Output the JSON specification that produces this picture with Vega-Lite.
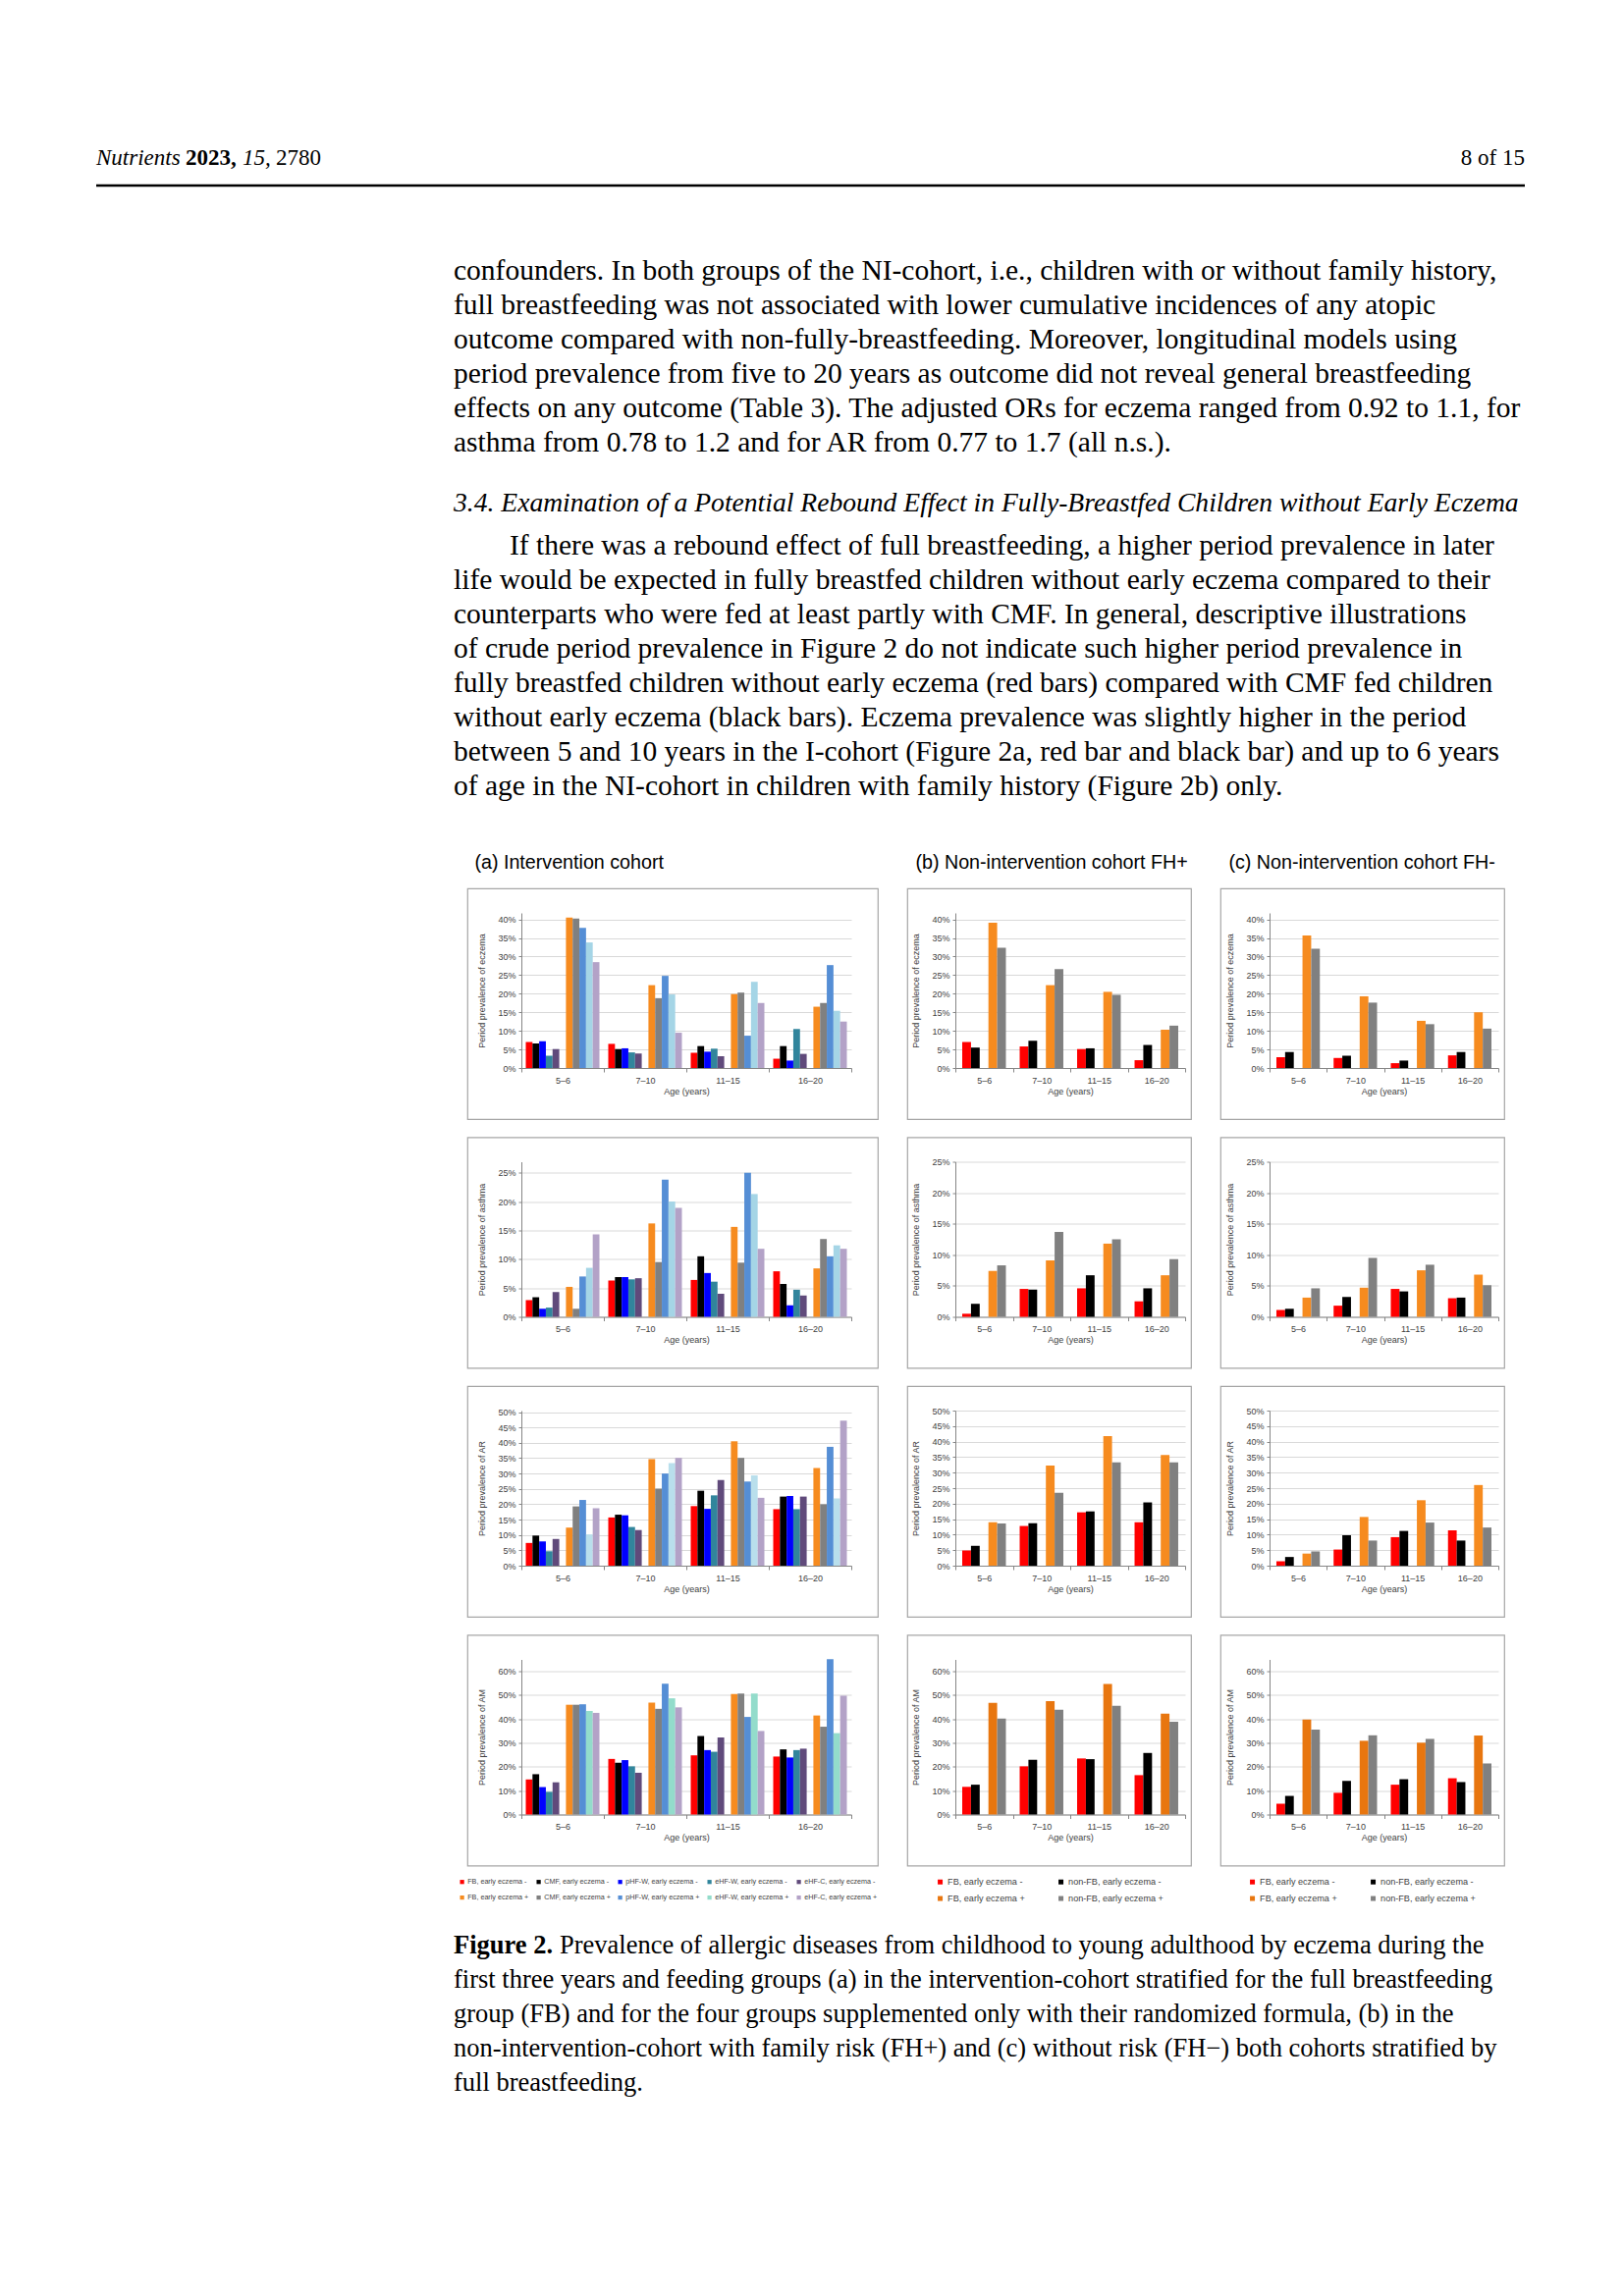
{
 "$schema": "https://vega.github.io/schema/vega-lite/v6.json",
 "background": "white",
 "padding": 0,
 "spacing": 0,
 "resolve": {"scale": {"color": "independent", "xOffset": "independent"}, "legend": {"color": "independent"}},
 "datasets": {
  "prev": [
   {"c":"a","o":"eczema","age":"5–6","g":"FB, early eczema -","v":7.0},
   {"c":"a","o":"eczema","age":"5–6","g":"CMF, early eczema -","v":6.6},
   {"c":"a","o":"eczema","age":"5–6","g":"pHF-W, early eczema -","v":7.2},
   {"c":"a","o":"eczema","age":"5–6","g":"eHF-W, early eczema -","v":3.3},
   {"c":"a","o":"eczema","age":"5–6","g":"eHF-C, early eczema -","v":5.1},
   {"c":"a","o":"eczema","age":"5–6","g":"FB, early eczema +","v":40.5},
   {"c":"a","o":"eczema","age":"5–6","g":"CMF, early eczema +","v":40.2},
   {"c":"a","o":"eczema","age":"5–6","g":"pHF-W, early eczema +","v":37.7},
   {"c":"a","o":"eczema","age":"5–6","g":"eHF-W, early eczema +","v":33.8},
   {"c":"a","o":"eczema","age":"5–6","g":"eHF-C, early eczema +","v":28.5},
   {"c":"a","o":"eczema","age":"7–10","g":"FB, early eczema -","v":6.5},
   {"c":"a","o":"eczema","age":"7–10","g":"CMF, early eczema -","v":5.1},
   {"c":"a","o":"eczema","age":"7–10","g":"pHF-W, early eczema -","v":5.3},
   {"c":"a","o":"eczema","age":"7–10","g":"eHF-W, early eczema -","v":4.2},
   {"c":"a","o":"eczema","age":"7–10","g":"eHF-C, early eczema -","v":3.9},
   {"c":"a","o":"eczema","age":"7–10","g":"FB, early eczema +","v":22.3},
   {"c":"a","o":"eczema","age":"7–10","g":"CMF, early eczema +","v":18.8},
   {"c":"a","o":"eczema","age":"7–10","g":"pHF-W, early eczema +","v":24.8},
   {"c":"a","o":"eczema","age":"7–10","g":"eHF-W, early eczema +","v":19.8},
   {"c":"a","o":"eczema","age":"7–10","g":"eHF-C, early eczema +","v":9.5},
   {"c":"a","o":"eczema","age":"11–15","g":"FB, early eczema -","v":4.1},
   {"c":"a","o":"eczema","age":"11–15","g":"CMF, early eczema -","v":5.9},
   {"c":"a","o":"eczema","age":"11–15","g":"pHF-W, early eczema -","v":4.4},
   {"c":"a","o":"eczema","age":"11–15","g":"eHF-W, early eczema -","v":5.2},
   {"c":"a","o":"eczema","age":"11–15","g":"eHF-C, early eczema -","v":3.2},
   {"c":"a","o":"eczema","age":"11–15","g":"FB, early eczema +","v":19.9},
   {"c":"a","o":"eczema","age":"11–15","g":"CMF, early eczema +","v":20.3},
   {"c":"a","o":"eczema","age":"11–15","g":"pHF-W, early eczema +","v":8.7},
   {"c":"a","o":"eczema","age":"11–15","g":"eHF-W, early eczema +","v":23.2},
   {"c":"a","o":"eczema","age":"11–15","g":"eHF-C, early eczema +","v":17.5},
   {"c":"a","o":"eczema","age":"16–20","g":"FB, early eczema -","v":2.5},
   {"c":"a","o":"eczema","age":"16–20","g":"CMF, early eczema -","v":5.9},
   {"c":"a","o":"eczema","age":"16–20","g":"pHF-W, early eczema -","v":2.0},
   {"c":"a","o":"eczema","age":"16–20","g":"eHF-W, early eczema -","v":10.5},
   {"c":"a","o":"eczema","age":"16–20","g":"eHF-C, early eczema -","v":3.8},
   {"c":"a","o":"eczema","age":"16–20","g":"FB, early eczema +","v":16.5},
   {"c":"a","o":"eczema","age":"16–20","g":"CMF, early eczema +","v":17.5},
   {"c":"a","o":"eczema","age":"16–20","g":"pHF-W, early eczema +","v":27.7},
   {"c":"a","o":"eczema","age":"16–20","g":"eHF-W, early eczema +","v":15.4},
   {"c":"a","o":"eczema","age":"16–20","g":"eHF-C, early eczema +","v":12.5},

   {"c":"a","o":"asthma","age":"5–6","g":"FB, early eczema -","v":2.9},
   {"c":"a","o":"asthma","age":"5–6","g":"CMF, early eczema -","v":3.4},
   {"c":"a","o":"asthma","age":"5–6","g":"pHF-W, early eczema -","v":1.4},
   {"c":"a","o":"asthma","age":"5–6","g":"eHF-W, early eczema -","v":1.6},
   {"c":"a","o":"asthma","age":"5–6","g":"eHF-C, early eczema -","v":4.3},
   {"c":"a","o":"asthma","age":"5–6","g":"FB, early eczema +","v":5.2},
   {"c":"a","o":"asthma","age":"5–6","g":"CMF, early eczema +","v":1.4},
   {"c":"a","o":"asthma","age":"5–6","g":"pHF-W, early eczema +","v":7.0},
   {"c":"a","o":"asthma","age":"5–6","g":"eHF-W, early eczema +","v":8.5},
   {"c":"a","o":"asthma","age":"5–6","g":"eHF-C, early eczema +","v":14.3},
   {"c":"a","o":"asthma","age":"7–10","g":"FB, early eczema -","v":6.3},
   {"c":"a","o":"asthma","age":"7–10","g":"CMF, early eczema -","v":6.9},
   {"c":"a","o":"asthma","age":"7–10","g":"pHF-W, early eczema -","v":6.9},
   {"c":"a","o":"asthma","age":"7–10","g":"eHF-W, early eczema -","v":6.5},
   {"c":"a","o":"asthma","age":"7–10","g":"eHF-C, early eczema -","v":6.7},
   {"c":"a","o":"asthma","age":"7–10","g":"FB, early eczema +","v":16.2},
   {"c":"a","o":"asthma","age":"7–10","g":"CMF, early eczema +","v":9.5},
   {"c":"a","o":"asthma","age":"7–10","g":"pHF-W, early eczema +","v":23.8},
   {"c":"a","o":"asthma","age":"7–10","g":"eHF-W, early eczema +","v":20.0},
   {"c":"a","o":"asthma","age":"7–10","g":"eHF-C, early eczema +","v":18.9},
   {"c":"a","o":"asthma","age":"11–15","g":"FB, early eczema -","v":6.4},
   {"c":"a","o":"asthma","age":"11–15","g":"CMF, early eczema -","v":10.5},
   {"c":"a","o":"asthma","age":"11–15","g":"pHF-W, early eczema -","v":7.6},
   {"c":"a","o":"asthma","age":"11–15","g":"eHF-W, early eczema -","v":6.1},
   {"c":"a","o":"asthma","age":"11–15","g":"eHF-C, early eczema -","v":4.0},
   {"c":"a","o":"asthma","age":"11–15","g":"FB, early eczema +","v":15.6},
   {"c":"a","o":"asthma","age":"11–15","g":"CMF, early eczema +","v":9.4},
   {"c":"a","o":"asthma","age":"11–15","g":"pHF-W, early eczema +","v":25.0},
   {"c":"a","o":"asthma","age":"11–15","g":"eHF-W, early eczema +","v":21.3},
   {"c":"a","o":"asthma","age":"11–15","g":"eHF-C, early eczema +","v":11.8},
   {"c":"a","o":"asthma","age":"16–20","g":"FB, early eczema -","v":7.9},
   {"c":"a","o":"asthma","age":"16–20","g":"CMF, early eczema -","v":5.7},
   {"c":"a","o":"asthma","age":"16–20","g":"pHF-W, early eczema -","v":2.0},
   {"c":"a","o":"asthma","age":"16–20","g":"eHF-W, early eczema -","v":4.7},
   {"c":"a","o":"asthma","age":"16–20","g":"eHF-C, early eczema -","v":3.7},
   {"c":"a","o":"asthma","age":"16–20","g":"FB, early eczema +","v":8.4},
   {"c":"a","o":"asthma","age":"16–20","g":"CMF, early eczema +","v":13.5},
   {"c":"a","o":"asthma","age":"16–20","g":"pHF-W, early eczema +","v":10.5},
   {"c":"a","o":"asthma","age":"16–20","g":"eHF-W, early eczema +","v":12.4},
   {"c":"a","o":"asthma","age":"16–20","g":"eHF-C, early eczema +","v":11.8},

   {"c":"a","o":"AR","age":"5–6","g":"FB, early eczema -","v":7.4},
   {"c":"a","o":"AR","age":"5–6","g":"CMF, early eczema -","v":9.8},
   {"c":"a","o":"AR","age":"5–6","g":"pHF-W, early eczema -","v":7.9},
   {"c":"a","o":"AR","age":"5–6","g":"eHF-W, early eczema -","v":4.7},
   {"c":"a","o":"AR","age":"5–6","g":"eHF-C, early eczema -","v":8.7},
   {"c":"a","o":"AR","age":"5–6","g":"FB, early eczema +","v":12.4},
   {"c":"a","o":"AR","age":"5–6","g":"CMF, early eczema +","v":19.3},
   {"c":"a","o":"AR","age":"5–6","g":"pHF-W, early eczema +","v":21.4},
   {"c":"a","o":"AR","age":"5–6","g":"eHF-W, early eczema +","v":10.2},
   {"c":"a","o":"AR","age":"5–6","g":"eHF-C, early eczema +","v":18.7},
   {"c":"a","o":"AR","age":"7–10","g":"FB, early eczema -","v":15.7},
   {"c":"a","o":"AR","age":"7–10","g":"CMF, early eczema -","v":16.6},
   {"c":"a","o":"AR","age":"7–10","g":"pHF-W, early eczema -","v":16.4},
   {"c":"a","o":"AR","age":"7–10","g":"eHF-W, early eczema -","v":12.6},
   {"c":"a","o":"AR","age":"7–10","g":"eHF-C, early eczema -","v":11.6},
   {"c":"a","o":"AR","age":"7–10","g":"FB, early eczema +","v":34.7},
   {"c":"a","o":"AR","age":"7–10","g":"CMF, early eczema +","v":25.1},
   {"c":"a","o":"AR","age":"7–10","g":"pHF-W, early eczema +","v":30.0},
   {"c":"a","o":"AR","age":"7–10","g":"eHF-W, early eczema +","v":33.4},
   {"c":"a","o":"AR","age":"7–10","g":"eHF-C, early eczema +","v":35.1},
   {"c":"a","o":"AR","age":"11–15","g":"FB, early eczema -","v":19.4},
   {"c":"a","o":"AR","age":"11–15","g":"CMF, early eczema -","v":24.4},
   {"c":"a","o":"AR","age":"11–15","g":"pHF-W, early eczema -","v":18.5},
   {"c":"a","o":"AR","age":"11–15","g":"eHF-W, early eczema -","v":22.9},
   {"c":"a","o":"AR","age":"11–15","g":"eHF-C, early eczema -","v":27.9},
   {"c":"a","o":"AR","age":"11–15","g":"FB, early eczema +","v":40.5},
   {"c":"a","o":"AR","age":"11–15","g":"CMF, early eczema +","v":35.1},
   {"c":"a","o":"AR","age":"11–15","g":"pHF-W, early eczema +","v":27.4},
   {"c":"a","o":"AR","age":"11–15","g":"eHF-W, early eczema +","v":29.4},
   {"c":"a","o":"AR","age":"11–15","g":"eHF-C, early eczema +","v":22.1},
   {"c":"a","o":"AR","age":"16–20","g":"FB, early eczema -","v":18.4},
   {"c":"a","o":"AR","age":"16–20","g":"CMF, early eczema -","v":22.5},
   {"c":"a","o":"AR","age":"16–20","g":"pHF-W, early eczema -","v":22.7},
   {"c":"a","o":"AR","age":"16–20","g":"eHF-W, early eczema -","v":18.4},
   {"c":"a","o":"AR","age":"16–20","g":"eHF-C, early eczema -","v":22.5},
   {"c":"a","o":"AR","age":"16–20","g":"FB, early eczema +","v":31.8},
   {"c":"a","o":"AR","age":"16–20","g":"CMF, early eczema +","v":20.0},
   {"c":"a","o":"AR","age":"16–20","g":"pHF-W, early eczema +","v":38.7},
   {"c":"a","o":"AR","age":"16–20","g":"eHF-W, early eczema +","v":21.9},
   {"c":"a","o":"AR","age":"16–20","g":"eHF-C, early eczema +","v":47.2},

   {"c":"a","o":"AM","age":"5–6","g":"FB, early eczema -","v":14.7},
   {"c":"a","o":"AM","age":"5–6","g":"CMF, early eczema -","v":16.9},
   {"c":"a","o":"AM","age":"5–6","g":"pHF-W, early eczema -","v":11.5},
   {"c":"a","o":"AM","age":"5–6","g":"eHF-W, early eczema -","v":9.5},
   {"c":"a","o":"AM","age":"5–6","g":"eHF-C, early eczema -","v":13.5},
   {"c":"a","o":"AM","age":"5–6","g":"FB, early eczema +","v":46.0},
   {"c":"a","o":"AM","age":"5–6","g":"CMF, early eczema +","v":46.0},
   {"c":"a","o":"AM","age":"5–6","g":"pHF-W, early eczema +","v":46.2},
   {"c":"a","o":"AM","age":"5–6","g":"eHF-W, early eczema +","v":43.4},
   {"c":"a","o":"AM","age":"5–6","g":"eHF-C, early eczema +","v":42.6},
   {"c":"a","o":"AM","age":"7–10","g":"FB, early eczema -","v":23.3},
   {"c":"a","o":"AM","age":"7–10","g":"CMF, early eczema -","v":21.7},
   {"c":"a","o":"AM","age":"7–10","g":"pHF-W, early eczema -","v":22.8},
   {"c":"a","o":"AM","age":"7–10","g":"eHF-W, early eczema -","v":20.2},
   {"c":"a","o":"AM","age":"7–10","g":"eHF-C, early eczema -","v":17.5},
   {"c":"a","o":"AM","age":"7–10","g":"FB, early eczema +","v":46.9},
   {"c":"a","o":"AM","age":"7–10","g":"CMF, early eczema +","v":44.3},
   {"c":"a","o":"AM","age":"7–10","g":"pHF-W, early eczema +","v":54.8},
   {"c":"a","o":"AM","age":"7–10","g":"eHF-W, early eczema +","v":48.7},
   {"c":"a","o":"AM","age":"7–10","g":"eHF-C, early eczema +","v":44.9},
   {"c":"a","o":"AM","age":"11–15","g":"FB, early eczema -","v":24.8},
   {"c":"a","o":"AM","age":"11–15","g":"CMF, early eczema -","v":32.9},
   {"c":"a","o":"AM","age":"11–15","g":"pHF-W, early eczema -","v":27.0},
   {"c":"a","o":"AM","age":"11–15","g":"eHF-W, early eczema -","v":26.3},
   {"c":"a","o":"AM","age":"11–15","g":"eHF-C, early eczema -","v":32.3},
   {"c":"a","o":"AM","age":"11–15","g":"FB, early eczema +","v":50.5},
   {"c":"a","o":"AM","age":"11–15","g":"CMF, early eczema +","v":50.7},
   {"c":"a","o":"AM","age":"11–15","g":"pHF-W, early eczema +","v":40.9},
   {"c":"a","o":"AM","age":"11–15","g":"eHF-W, early eczema +","v":50.7},
   {"c":"a","o":"AM","age":"11–15","g":"eHF-C, early eczema +","v":35.0},
   {"c":"a","o":"AM","age":"16–20","g":"FB, early eczema -","v":24.3},
   {"c":"a","o":"AM","age":"16–20","g":"CMF, early eczema -","v":27.3},
   {"c":"a","o":"AM","age":"16–20","g":"pHF-W, early eczema -","v":23.9},
   {"c":"a","o":"AM","age":"16–20","g":"eHF-W, early eczema -","v":27.0},
   {"c":"a","o":"AM","age":"16–20","g":"eHF-C, early eczema -","v":27.6},
   {"c":"a","o":"AM","age":"16–20","g":"FB, early eczema +","v":41.5},
   {"c":"a","o":"AM","age":"16–20","g":"CMF, early eczema +","v":36.8},
   {"c":"a","o":"AM","age":"16–20","g":"pHF-W, early eczema +","v":65.1},
   {"c":"a","o":"AM","age":"16–20","g":"eHF-W, early eczema +","v":34.1},
   {"c":"a","o":"AM","age":"16–20","g":"eHF-C, early eczema +","v":49.8},

   {"c":"b","o":"eczema","age":"5–6","g":"FB, early eczema -","v":7.0},
   {"c":"b","o":"eczema","age":"5–6","g":"non-FB, early eczema -","v":5.5},
   {"c":"b","o":"eczema","age":"5–6","g":"FB, early eczema +","v":39.1},
   {"c":"b","o":"eczema","age":"5–6","g":"non-FB, early eczema +","v":32.4},
   {"c":"b","o":"eczema","age":"7–10","g":"FB, early eczema -","v":5.8},
   {"c":"b","o":"eczema","age":"7–10","g":"non-FB, early eczema -","v":7.3},
   {"c":"b","o":"eczema","age":"7–10","g":"FB, early eczema +","v":22.3},
   {"c":"b","o":"eczema","age":"7–10","g":"non-FB, early eczema +","v":26.6},
   {"c":"b","o":"eczema","age":"11–15","g":"FB, early eczema -","v":5.1},
   {"c":"b","o":"eczema","age":"11–15","g":"non-FB, early eczema -","v":5.3},
   {"c":"b","o":"eczema","age":"11–15","g":"FB, early eczema +","v":20.5},
   {"c":"b","o":"eczema","age":"11–15","g":"non-FB, early eczema +","v":19.7},
   {"c":"b","o":"eczema","age":"16–20","g":"FB, early eczema -","v":2.1},
   {"c":"b","o":"eczema","age":"16–20","g":"non-FB, early eczema -","v":6.2},
   {"c":"b","o":"eczema","age":"16–20","g":"FB, early eczema +","v":10.3},
   {"c":"b","o":"eczema","age":"16–20","g":"non-FB, early eczema +","v":11.4},
   {"c":"b","o":"asthma","age":"5–6","g":"FB, early eczema -","v":0.5},
   {"c":"b","o":"asthma","age":"5–6","g":"non-FB, early eczema -","v":2.1},
   {"c":"b","o":"asthma","age":"5–6","g":"FB, early eczema +","v":7.4},
   {"c":"b","o":"asthma","age":"5–6","g":"non-FB, early eczema +","v":8.3},
   {"c":"b","o":"asthma","age":"7–10","g":"FB, early eczema -","v":4.5},
   {"c":"b","o":"asthma","age":"7–10","g":"non-FB, early eczema -","v":4.4},
   {"c":"b","o":"asthma","age":"7–10","g":"FB, early eczema +","v":9.1},
   {"c":"b","o":"asthma","age":"7–10","g":"non-FB, early eczema +","v":13.7},
   {"c":"b","o":"asthma","age":"11–15","g":"FB, early eczema -","v":4.6},
   {"c":"b","o":"asthma","age":"11–15","g":"non-FB, early eczema -","v":6.7},
   {"c":"b","o":"asthma","age":"11–15","g":"FB, early eczema +","v":11.8},
   {"c":"b","o":"asthma","age":"11–15","g":"non-FB, early eczema +","v":12.5},
   {"c":"b","o":"asthma","age":"16–20","g":"FB, early eczema -","v":2.5},
   {"c":"b","o":"asthma","age":"16–20","g":"non-FB, early eczema -","v":4.6},
   {"c":"b","o":"asthma","age":"16–20","g":"FB, early eczema +","v":6.7},
   {"c":"b","o":"asthma","age":"16–20","g":"non-FB, early eczema +","v":9.3},
   {"c":"b","o":"AR","age":"5–6","g":"FB, early eczema -","v":4.9},
   {"c":"b","o":"AR","age":"5–6","g":"non-FB, early eczema -","v":6.4},
   {"c":"b","o":"AR","age":"5–6","g":"FB, early eczema +","v":14.0},
   {"c":"b","o":"AR","age":"5–6","g":"non-FB, early eczema +","v":13.6},
   {"c":"b","o":"AR","age":"7–10","g":"FB, early eczema -","v":12.8},
   {"c":"b","o":"AR","age":"7–10","g":"non-FB, early eczema -","v":13.7},
   {"c":"b","o":"AR","age":"7–10","g":"FB, early eczema +","v":32.3},
   {"c":"b","o":"AR","age":"7–10","g":"non-FB, early eczema +","v":23.5},
   {"c":"b","o":"AR","age":"11–15","g":"FB, early eczema -","v":17.2},
   {"c":"b","o":"AR","age":"11–15","g":"non-FB, early eczema -","v":17.5},
   {"c":"b","o":"AR","age":"11–15","g":"FB, early eczema +","v":41.8},
   {"c":"b","o":"AR","age":"11–15","g":"non-FB, early eczema +","v":33.3},
   {"c":"b","o":"AR","age":"16–20","g":"FB, early eczema -","v":14.0},
   {"c":"b","o":"AR","age":"16–20","g":"non-FB, early eczema -","v":20.4},
   {"c":"b","o":"AR","age":"16–20","g":"FB, early eczema +","v":35.7},
   {"c":"b","o":"AR","age":"16–20","g":"non-FB, early eczema +","v":33.3},
   {"c":"b","o":"AM","age":"5–6","g":"FB, early eczema -","v":11.6},
   {"c":"b","o":"AM","age":"5–6","g":"non-FB, early eczema -","v":12.5},
   {"c":"b","o":"AM","age":"5–6","g":"FB, early eczema +","v":46.8},
   {"c":"b","o":"AM","age":"5–6","g":"non-FB, early eczema +","v":40.2},
   {"c":"b","o":"AM","age":"7–10","g":"FB, early eczema -","v":20.2},
   {"c":"b","o":"AM","age":"7–10","g":"non-FB, early eczema -","v":22.9},
   {"c":"b","o":"AM","age":"7–10","g":"FB, early eczema +","v":47.5},
   {"c":"b","o":"AM","age":"7–10","g":"non-FB, early eczema +","v":43.9},
   {"c":"b","o":"AM","age":"11–15","g":"FB, early eczema -","v":23.5},
   {"c":"b","o":"AM","age":"11–15","g":"non-FB, early eczema -","v":23.2},
   {"c":"b","o":"AM","age":"11–15","g":"FB, early eczema +","v":54.7},
   {"c":"b","o":"AM","age":"11–15","g":"non-FB, early eczema +","v":45.6},
   {"c":"b","o":"AM","age":"16–20","g":"FB, early eczema -","v":16.5},
   {"c":"b","o":"AM","age":"16–20","g":"non-FB, early eczema -","v":25.8},
   {"c":"b","o":"AM","age":"16–20","g":"FB, early eczema +","v":42.3},
   {"c":"b","o":"AM","age":"16–20","g":"non-FB, early eczema +","v":38.9},

   {"c":"c","o":"eczema","age":"5–6","g":"FB, early eczema -","v":2.9},
   {"c":"c","o":"eczema","age":"5–6","g":"non-FB, early eczema -","v":4.3},
   {"c":"c","o":"eczema","age":"5–6","g":"FB, early eczema +","v":35.7},
   {"c":"c","o":"eczema","age":"5–6","g":"non-FB, early eczema +","v":32.1},
   {"c":"c","o":"eczema","age":"7–10","g":"FB, early eczema -","v":2.7},
   {"c":"c","o":"eczema","age":"7–10","g":"non-FB, early eczema -","v":3.3},
   {"c":"c","o":"eczema","age":"7–10","g":"FB, early eczema +","v":19.3},
   {"c":"c","o":"eczema","age":"7–10","g":"non-FB, early eczema +","v":17.6},
   {"c":"c","o":"eczema","age":"11–15","g":"FB, early eczema -","v":1.3},
   {"c":"c","o":"eczema","age":"11–15","g":"non-FB, early eczema -","v":2.0},
   {"c":"c","o":"eczema","age":"11–15","g":"FB, early eczema +","v":12.7},
   {"c":"c","o":"eczema","age":"11–15","g":"non-FB, early eczema +","v":11.8},
   {"c":"c","o":"eczema","age":"16–20","g":"FB, early eczema -","v":3.4},
   {"c":"c","o":"eczema","age":"16–20","g":"non-FB, early eczema -","v":4.3},
   {"c":"c","o":"eczema","age":"16–20","g":"FB, early eczema +","v":15.0},
   {"c":"c","o":"eczema","age":"16–20","g":"non-FB, early eczema +","v":10.6},
   {"c":"c","o":"asthma","age":"5–6","g":"FB, early eczema -","v":1.1},
   {"c":"c","o":"asthma","age":"5–6","g":"non-FB, early eczema -","v":1.3},
   {"c":"c","o":"asthma","age":"5–6","g":"FB, early eczema +","v":3.1},
   {"c":"c","o":"asthma","age":"5–6","g":"non-FB, early eczema +","v":4.6},
   {"c":"c","o":"asthma","age":"7–10","g":"FB, early eczema -","v":1.8},
   {"c":"c","o":"asthma","age":"7–10","g":"non-FB, early eczema -","v":3.2},
   {"c":"c","o":"asthma","age":"7–10","g":"FB, early eczema +","v":4.7},
   {"c":"c","o":"asthma","age":"7–10","g":"non-FB, early eczema +","v":9.5},
   {"c":"c","o":"asthma","age":"11–15","g":"FB, early eczema -","v":4.5},
   {"c":"c","o":"asthma","age":"11–15","g":"non-FB, early eczema -","v":4.1},
   {"c":"c","o":"asthma","age":"11–15","g":"FB, early eczema +","v":7.5},
   {"c":"c","o":"asthma","age":"11–15","g":"non-FB, early eczema +","v":8.4},
   {"c":"c","o":"asthma","age":"16–20","g":"FB, early eczema -","v":3.0},
   {"c":"c","o":"asthma","age":"16–20","g":"non-FB, early eczema -","v":3.1},
   {"c":"c","o":"asthma","age":"16–20","g":"FB, early eczema +","v":6.8},
   {"c":"c","o":"asthma","age":"16–20","g":"non-FB, early eczema +","v":5.1},
   {"c":"c","o":"AR","age":"5–6","g":"FB, early eczema -","v":1.4},
   {"c":"c","o":"AR","age":"5–6","g":"non-FB, early eczema -","v":2.8},
   {"c":"c","o":"AR","age":"5–6","g":"FB, early eczema +","v":3.9},
   {"c":"c","o":"AR","age":"5–6","g":"non-FB, early eczema +","v":4.6},
   {"c":"c","o":"AR","age":"7–10","g":"FB, early eczema -","v":5.2},
   {"c":"c","o":"AR","age":"7–10","g":"non-FB, early eczema -","v":9.8},
   {"c":"c","o":"AR","age":"7–10","g":"FB, early eczema +","v":15.7},
   {"c":"c","o":"AR","age":"7–10","g":"non-FB, early eczema +","v":8.1},
   {"c":"c","o":"AR","age":"11–15","g":"FB, early eczema -","v":9.2},
   {"c":"c","o":"AR","age":"11–15","g":"non-FB, early eczema -","v":11.2},
   {"c":"c","o":"AR","age":"11–15","g":"FB, early eczema +","v":21.1},
   {"c":"c","o":"AR","age":"11–15","g":"non-FB, early eczema +","v":13.9},
   {"c":"c","o":"AR","age":"16–20","g":"FB, early eczema -","v":11.4},
   {"c":"c","o":"AR","age":"16–20","g":"non-FB, early eczema -","v":8.1},
   {"c":"c","o":"AR","age":"16–20","g":"FB, early eczema +","v":26.0},
   {"c":"c","o":"AR","age":"16–20","g":"non-FB, early eczema +","v":12.3},
   {"c":"c","o":"AM","age":"5–6","g":"FB, early eczema -","v":4.5},
   {"c":"c","o":"AM","age":"5–6","g":"non-FB, early eczema -","v":7.8},
   {"c":"c","o":"AM","age":"5–6","g":"FB, early eczema +","v":39.8},
   {"c":"c","o":"AM","age":"5–6","g":"non-FB, early eczema +","v":35.6},
   {"c":"c","o":"AM","age":"7–10","g":"FB, early eczema -","v":9.1},
   {"c":"c","o":"AM","age":"7–10","g":"non-FB, early eczema -","v":14.1},
   {"c":"c","o":"AM","age":"7–10","g":"FB, early eczema +","v":30.9},
   {"c":"c","o":"AM","age":"7–10","g":"non-FB, early eczema +","v":33.2},
   {"c":"c","o":"AM","age":"11–15","g":"FB, early eczema -","v":12.5},
   {"c":"c","o":"AM","age":"11–15","g":"non-FB, early eczema -","v":14.8},
   {"c":"c","o":"AM","age":"11–15","g":"FB, early eczema +","v":30.1},
   {"c":"c","o":"AM","age":"11–15","g":"non-FB, early eczema +","v":31.7},
   {"c":"c","o":"AM","age":"16–20","g":"FB, early eczema -","v":15.2},
   {"c":"c","o":"AM","age":"16–20","g":"non-FB, early eczema -","v":13.6},
   {"c":"c","o":"AM","age":"16–20","g":"FB, early eczema +","v":33.1},
   {"c":"c","o":"AM","age":"16–20","g":"non-FB, early eczema +","v":21.4}
  ]
 },
 "vconcat": [
  {
   "width": 1654, "height": 200,
   "encoding": {
    "x": {"datum": 0, "type": "quantitative", "scale": {"domain": [0, 1], "range": [98, 1553], "nice": false, "zero": false}, "axis": null},
    "y": {"datum": 0, "type": "quantitative", "scale": {"domain": [0, 1], "range": [161, 189], "nice": false, "zero": false}, "axis": null}
   },
   "layer": [
    {"data": {"values": [{"t": "Nutrients"}]}, "mark": {"type": "text", "font": "Liberation Serif", "fontSize": 23, "fontStyle": "italic", "align": "left", "baseline": "middle", "color": "#000"}, "encoding": {"text": {"field": "t"}}},
    {"data": {"values": [{"t": "2023,"}]}, "mark": {"type": "text", "font": "Liberation Serif", "fontSize": 23, "fontWeight": "bold", "align": "left", "baseline": "middle", "color": "#000", "dx": 91}, "encoding": {"text": {"field": "t"}}},
    {"data": {"values": [{"t": "15,"}]}, "mark": {"type": "text", "font": "Liberation Serif", "fontSize": 23, "fontStyle": "italic", "align": "left", "baseline": "middle", "color": "#000", "dx": 149}, "encoding": {"text": {"field": "t"}}},
    {"data": {"values": [{"t": "2780"}]}, "mark": {"type": "text", "font": "Liberation Serif", "fontSize": 23, "align": "left", "baseline": "middle", "color": "#000", "dx": 183}, "encoding": {"text": {"field": "t"}}},
    {"data": {"values": [{"t": "8 of 15"}]}, "mark": {"type": "text", "font": "Liberation Serif", "fontSize": 23, "align": "right", "baseline": "middle", "color": "#000"}, "encoding": {"x": {"datum": 1, "type": "quantitative"}, "text": {"field": "t"}}},
    {"data": {"values": [{"t": "header rule"}]}, "mark": {"type": "rule", "strokeWidth": 2.5, "color": "#000"}, "encoding": {"x": {"datum": 0, "type": "quantitative"}, "x2": {"datum": 1}, "y": {"datum": 1, "type": "quantitative"}}}
   ]
  },
  {
   "width": 1654, "height": 668,
   "data": {"values": [
    {"line": 1, "text": "confounders. In both groups of the NI-cohort, i.e., children with or without family history,"},
    {"line": 2, "text": "full breastfeeding was not associated with lower cumulative incidences of any atopic"},
    {"line": 3, "text": "outcome compared with non-fully-breastfeeding. Moreover, longitudinal models using"},
    {"line": 4, "text": "period prevalence from five to 20 years as outcome did not reveal general breastfeeding"},
    {"line": 5, "text": "effects on any outcome (Table 3). The adjusted ORs for eczema ranged from 0.92 to 1.1, for"},
    {"line": 6, "text": "asthma from 0.78 to 1.2 and for AR from 0.77 to 1.7 (all n.s.)."},
    {"line": 8, "text": "3.4. Examination of a Potential Rebound Effect in Fully-Breastfed Children without Early Eczema"},
    {"line": 9, "text": "If there was a rebound effect of full breastfeeding, a higher period prevalence in later"},
    {"line": 10, "text": "life would be expected in fully breastfed children without early eczema compared to their"},
    {"line": 11, "text": "counterparts who were fed at least partly with CMF. In general, descriptive illustrations"},
    {"line": 12, "text": "of crude period prevalence in Figure 2 do not indicate such higher period prevalence in"},
    {"line": 13, "text": "fully breastfed children without early eczema (red bars) compared with CMF fed children"},
    {"line": 14, "text": "without early eczema (black bars). Eczema prevalence was slightly higher in the period"},
    {"line": 15, "text": "between 5 and 10 years in the I-cohort (Figure 2a, red bar and black bar) and up to 6 years"},
    {"line": 16, "text": "of age in the NI-cohort in children with family history (Figure 2b) only."}
   ]},
   "encoding": {
    "x": {"datum": 0, "type": "quantitative", "scale": {"domain": [0, 1], "range": [462, 1553], "nice": false, "zero": false}, "axis": null},
    "y": {"field": "line", "type": "quantitative", "scale": {"domain": [1, 16], "range": [75.7, 600.7], "nice": false, "zero": false}, "axis": null},
    "text": {"field": "text"}
   },
   "layer": [
    {"transform": [{"filter": "datum.line <= 6 || datum.line >= 10"}], "mark": {"type": "text", "font": "Liberation Serif", "fontSize": 29.5, "align": "left", "baseline": "middle", "color": "#000"}},
    {"transform": [{"filter": "datum.line === 9"}], "mark": {"type": "text", "font": "Liberation Serif", "fontSize": 29.5, "align": "left", "baseline": "middle", "color": "#000", "dx": 57}},
    {"transform": [{"filter": "datum.line === 8"}], "mark": {"type": "text", "font": "Liberation Serif", "fontSize": 27.6, "fontStyle": "italic", "align": "left", "baseline": "middle", "color": "#000", "dy": -8}}
   ]
  },
  {
   "hconcat": [
    {"width": 438, "height": 10, "data": {"values": [{"s": "spacer"}]}, "mark": {"type": "point", "opacity": 0}, "encoding": {}},
    {
     "title": {"text": "(a) Intervention cohort", "anchor": "start", "dx": 17, "offset": 16, "font": "Liberation Sans", "fontSize": 19.7, "fontWeight": "normal", "color": "#000"},
     "spacing": 16.5,
     "resolve": {"scale": {"color": "independent", "xOffset": "independent"}, "legend": {"color": "independent"}},
     "vconcat": [
      {
       "width": 418, "height": 235,
       "view": {"stroke": "#a6a6a6", "strokeWidth": 1.2},
       "data": {"name": "prev"},
       "transform": [{"filter": "datum.c === 'a' && datum.o === 'eczema'"}],
       "mark": {"type": "bar"},
       "encoding": {
        "x": {"field": "age", "type": "nominal", "title": "Age (years)", "scale": {"domain": ["5–6", "7–10", "11–15", "16–20"], "range": [55, 391], "paddingInner": 0, "paddingOuter": 0}, "axis": {"offset": -52, "tickBand": "extent", "labelAngle": 0}},
        "xOffset": {"field": "g", "type": "nominal", "scale": {"domain": ["FB, early eczema -", "CMF, early eczema -", "pHF-W, early eczema -", "eHF-W, early eczema -", "eHF-C, early eczema -", "gap", "FB, early eczema +", "CMF, early eczema +", "pHF-W, early eczema +", "eHF-W, early eczema +", "eHF-C, early eczema +"], "paddingInner": 0, "paddingOuter": 0.66}},
        "y": {"field": "v", "type": "quantitative", "title": "Period prevalence of eczema", "scale": {"domain": [0, 41.75], "range": [183, 25], "nice": false, "zero": true}, "axis": {"offset": -55, "values": [0, 5, 10, 15, 20, 25, 30, 35, 40], "labelExpr": "datum.value + '%'", "grid": true}},
        "color": {"field": "g", "type": "nominal", "scale": {"domain": ["FB, early eczema -", "CMF, early eczema -", "pHF-W, early eczema -", "eHF-W, early eczema -", "eHF-C, early eczema -", "FB, early eczema +", "CMF, early eczema +", "pHF-W, early eczema +", "eHF-W, early eczema +", "eHF-C, early eczema +"], "range": ["#FF0000", "#000000", "#0000FF", "#31859C", "#604A7B", "#F68B1F", "#808080", "#558ED5", "#A5D5E6", "#B3A2C7"]}, "legend": null}
       }
      },
      {
       "width": 418, "height": 235,
       "view": {"stroke": "#a6a6a6", "strokeWidth": 1.2},
       "data": {"name": "prev"},
       "transform": [{"filter": "datum.c === 'a' && datum.o === 'asthma'"}],
       "mark": {"type": "bar"},
       "encoding": {
        "x": {"field": "age", "type": "nominal", "title": "Age (years)", "scale": {"domain": ["5–6", "7–10", "11–15", "16–20"], "range": [55, 391], "paddingInner": 0, "paddingOuter": 0}, "axis": {"offset": -52, "tickBand": "extent", "labelAngle": 0}},
        "xOffset": {"field": "g", "type": "nominal", "scale": {"domain": ["FB, early eczema -", "CMF, early eczema -", "pHF-W, early eczema -", "eHF-W, early eczema -", "eHF-C, early eczema -", "gap", "FB, early eczema +", "CMF, early eczema +", "pHF-W, early eczema +", "eHF-W, early eczema +", "eHF-C, early eczema +"], "paddingInner": 0, "paddingOuter": 0.66}},
        "y": {"field": "v", "type": "quantitative", "title": "Period prevalence of asthma", "scale": {"domain": [0, 26.9], "range": [183, 25], "nice": false, "zero": true}, "axis": {"offset": -55, "values": [0, 5, 10, 15, 20, 25], "labelExpr": "datum.value + '%'", "grid": true}},
        "color": {"field": "g", "type": "nominal", "scale": {"domain": ["FB, early eczema -", "CMF, early eczema -", "pHF-W, early eczema -", "eHF-W, early eczema -", "eHF-C, early eczema -", "FB, early eczema +", "CMF, early eczema +", "pHF-W, early eczema +", "eHF-W, early eczema +", "eHF-C, early eczema +"], "range": ["#FF0000", "#000000", "#0000FF", "#31859C", "#604A7B", "#F68B1F", "#808080", "#558ED5", "#A5D5E6", "#B3A2C7"]}, "legend": null}
       }
      },
      {
       "width": 418, "height": 235,
       "view": {"stroke": "#a6a6a6", "strokeWidth": 1.2},
       "data": {"name": "prev"},
       "transform": [{"filter": "datum.c === 'a' && datum.o === 'AR'"}],
       "mark": {"type": "bar"},
       "encoding": {
        "x": {"field": "age", "type": "nominal", "title": "Age (years)", "scale": {"domain": ["5–6", "7–10", "11–15", "16–20"], "range": [55, 391], "paddingInner": 0, "paddingOuter": 0}, "axis": {"offset": -52, "tickBand": "extent", "labelAngle": 0}},
        "xOffset": {"field": "g", "type": "nominal", "scale": {"domain": ["FB, early eczema -", "CMF, early eczema -", "pHF-W, early eczema -", "eHF-W, early eczema -", "eHF-C, early eczema -", "gap", "FB, early eczema +", "CMF, early eczema +", "pHF-W, early eczema +", "eHF-W, early eczema +", "eHF-C, early eczema +"], "paddingInner": 0, "paddingOuter": 0.66}},
        "y": {"field": "v", "type": "quantitative", "title": "Period prevalence of AR", "scale": {"domain": [0, 50.5], "range": [183, 25], "nice": false, "zero": true}, "axis": {"offset": -55, "values": [0, 5, 10, 15, 20, 25, 30, 35, 40, 45, 50], "labelExpr": "datum.value + '%'", "grid": true}},
        "color": {"field": "g", "type": "nominal", "scale": {"domain": ["FB, early eczema -", "CMF, early eczema -", "pHF-W, early eczema -", "eHF-W, early eczema -", "eHF-C, early eczema -", "FB, early eczema +", "CMF, early eczema +", "pHF-W, early eczema +", "eHF-W, early eczema +", "eHF-C, early eczema +"], "range": ["#FF0000", "#000000", "#0000FF", "#31859C", "#604A7B", "#F68B1F", "#808080", "#558ED5", "#B9DFEC", "#B3A2C7"]}, "legend": null}
       }
      },
      {
       "width": 418, "height": 235,
       "view": {"stroke": "#a6a6a6", "strokeWidth": 1.2},
       "data": {"name": "prev"},
       "transform": [{"filter": "datum.c === 'a' && datum.o === 'AM'"}],
       "mark": {"type": "bar"},
       "encoding": {
        "x": {"field": "age", "type": "nominal", "title": "Age (years)", "scale": {"domain": ["5–6", "7–10", "11–15", "16–20"], "range": [55, 391], "paddingInner": 0, "paddingOuter": 0}, "axis": {"offset": -52, "tickBand": "extent", "labelAngle": 0}},
        "xOffset": {"field": "g", "type": "nominal", "scale": {"domain": ["FB, early eczema -", "CMF, early eczema -", "pHF-W, early eczema -", "eHF-W, early eczema -", "eHF-C, early eczema -", "gap", "FB, early eczema +", "CMF, early eczema +", "pHF-W, early eczema +", "eHF-W, early eczema +", "eHF-C, early eczema +"], "paddingInner": 0, "paddingOuter": 0.66}},
        "y": {"field": "v", "type": "quantitative", "title": "Period prevalence of AM", "scale": {"domain": [0, 65], "range": [183, 25], "nice": false, "zero": true}, "axis": {"offset": -55, "values": [0, 10, 20, 30, 40, 50, 60], "labelExpr": "datum.value + '%'", "grid": true}},
        "color": {"field": "g", "type": "nominal", "scale": {"domain": ["FB, early eczema -", "CMF, early eczema -", "pHF-W, early eczema -", "eHF-W, early eczema -", "eHF-C, early eczema -", "FB, early eczema +", "CMF, early eczema +", "pHF-W, early eczema +", "eHF-W, early eczema +", "eHF-C, early eczema +"], "range": ["#FF0000", "#000000", "#0000FF", "#31859C", "#604A7B", "#F68B1F", "#808080", "#558ED5", "#93DCCB", "#B3A2C7"]},
         "legend": {"orient": "none", "legendX": -9, "legendY": 248, "direction": "horizontal", "columns": 5, "title": null, "symbolType": "square", "symbolSize": 18, "symbolStrokeWidth": 0, "labelFontSize": 7.2, "labelOffset": 2, "columnPadding": 6, "rowPadding": 8, "labelColor": "#404040", "labelFont": "Liberation Sans"}}
       }
      }
     ]
    },
    {
     "title": {"text": "(b) Non-intervention cohort FH+", "anchor": "start", "dx": 9, "offset": 16, "font": "Liberation Sans", "fontSize": 19.7, "fontWeight": "normal", "color": "#000"},
     "spacing": 16.5,
     "resolve": {"scale": {"color": "independent", "xOffset": "independent"}, "legend": {"color": "independent"}},
     "vconcat": [
      {
       "width": 289, "height": 235,
       "view": {"stroke": "#a6a6a6", "strokeWidth": 1.2},
       "data": {"name": "prev"},
       "transform": [{"filter": "datum.c === 'b' && datum.o === 'eczema'"}],
       "mark": {"type": "bar"},
       "encoding": {
        "x": {"field": "age", "type": "nominal", "title": "Age (years)", "scale": {"domain": ["5–6", "7–10", "11–15", "16–20"], "range": [49, 283], "paddingInner": 0, "paddingOuter": 0}, "axis": {"offset": -52, "tickBand": "extent", "labelAngle": 0}},
        "xOffset": {"field": "g", "type": "nominal", "scale": {"domain": ["FB, early eczema -", "non-FB, early eczema -", "gap", "FB, early eczema +", "non-FB, early eczema +"], "paddingInner": 0, "paddingOuter": 0.79}},
        "y": {"field": "v", "type": "quantitative", "title": "Period prevalence of eczema", "scale": {"domain": [0, 41.75], "range": [183, 25], "nice": false, "zero": true}, "axis": {"offset": -49, "values": [0, 5, 10, 15, 20, 25, 30, 35, 40], "labelExpr": "datum.value + '%'", "grid": true}},
        "color": {"field": "g", "type": "nominal", "scale": {"domain": ["FB, early eczema -", "non-FB, early eczema -", "FB, early eczema +", "non-FB, early eczema +"], "range": ["#FF0000", "#000000", "#F68B1F", "#808080"]}, "legend": null}
       }
      },
      {
       "width": 289, "height": 235,
       "view": {"stroke": "#a6a6a6", "strokeWidth": 1.2},
       "data": {"name": "prev"},
       "transform": [{"filter": "datum.c === 'b' && datum.o === 'asthma'"}],
       "mark": {"type": "bar"},
       "encoding": {
        "x": {"field": "age", "type": "nominal", "title": "Age (years)", "scale": {"domain": ["5–6", "7–10", "11–15", "16–20"], "range": [49, 283], "paddingInner": 0, "paddingOuter": 0}, "axis": {"offset": -52, "tickBand": "extent", "labelAngle": 0}},
        "xOffset": {"field": "g", "type": "nominal", "scale": {"domain": ["FB, early eczema -", "non-FB, early eczema -", "gap", "FB, early eczema +", "non-FB, early eczema +"], "paddingInner": 0, "paddingOuter": 0.79}},
        "y": {"field": "v", "type": "quantitative", "title": "Period prevalence of asthma", "scale": {"domain": [0, 25], "range": [183, 25], "nice": false, "zero": true}, "axis": {"offset": -49, "values": [0, 5, 10, 15, 20, 25], "labelExpr": "datum.value + '%'", "grid": true}},
        "color": {"field": "g", "type": "nominal", "scale": {"domain": ["FB, early eczema -", "non-FB, early eczema -", "FB, early eczema +", "non-FB, early eczema +"], "range": ["#FF0000", "#000000", "#F68B1F", "#808080"]}, "legend": null}
       }
      },
      {
       "width": 289, "height": 235,
       "view": {"stroke": "#a6a6a6", "strokeWidth": 1.2},
       "data": {"name": "prev"},
       "transform": [{"filter": "datum.c === 'b' && datum.o === 'AR'"}],
       "mark": {"type": "bar"},
       "encoding": {
        "x": {"field": "age", "type": "nominal", "title": "Age (years)", "scale": {"domain": ["5–6", "7–10", "11–15", "16–20"], "range": [49, 283], "paddingInner": 0, "paddingOuter": 0}, "axis": {"offset": -52, "tickBand": "extent", "labelAngle": 0}},
        "xOffset": {"field": "g", "type": "nominal", "scale": {"domain": ["FB, early eczema -", "non-FB, early eczema -", "gap", "FB, early eczema +", "non-FB, early eczema +"], "paddingInner": 0, "paddingOuter": 0.79}},
        "y": {"field": "v", "type": "quantitative", "title": "Period prevalence of AR", "scale": {"domain": [0, 50], "range": [183, 25], "nice": false, "zero": true}, "axis": {"offset": -49, "values": [0, 5, 10, 15, 20, 25, 30, 35, 40, 45, 50], "labelExpr": "datum.value + '%'", "grid": true}},
        "color": {"field": "g", "type": "nominal", "scale": {"domain": ["FB, early eczema -", "non-FB, early eczema -", "FB, early eczema +", "non-FB, early eczema +"], "range": ["#FF0000", "#000000", "#F68B1F", "#808080"]}, "legend": null}
       }
      },
      {
       "width": 289, "height": 235,
       "view": {"stroke": "#a6a6a6", "strokeWidth": 1.2},
       "data": {"name": "prev"},
       "transform": [{"filter": "datum.c === 'b' && datum.o === 'AM'"}],
       "mark": {"type": "bar"},
       "encoding": {
        "x": {"field": "age", "type": "nominal", "title": "Age (years)", "scale": {"domain": ["5–6", "7–10", "11–15", "16–20"], "range": [49, 283], "paddingInner": 0, "paddingOuter": 0}, "axis": {"offset": -52, "tickBand": "extent", "labelAngle": 0}},
        "xOffset": {"field": "g", "type": "nominal", "scale": {"domain": ["FB, early eczema -", "non-FB, early eczema -", "gap", "FB, early eczema +", "non-FB, early eczema +"], "paddingInner": 0, "paddingOuter": 0.79}},
        "y": {"field": "v", "type": "quantitative", "title": "Period prevalence of AM", "scale": {"domain": [0, 65], "range": [183, 25], "nice": false, "zero": true}, "axis": {"offset": -49, "values": [0, 10, 20, 30, 40, 50, 60], "labelExpr": "datum.value + '%'", "grid": true}},
        "color": {"field": "g", "type": "nominal", "scale": {"domain": ["FB, early eczema -", "non-FB, early eczema -", "FB, early eczema +", "non-FB, early eczema +"], "range": ["#FF0000", "#000000", "#E8760F", "#808080"]},
         "legend": {"orient": "none", "legendX": 29, "legendY": 247, "direction": "horizontal", "columns": 2, "title": null, "symbolType": "square", "symbolSize": 25, "symbolStrokeWidth": 0, "labelFontSize": 9.1, "labelOffset": 3, "columnPadding": 32, "rowPadding": 7, "labelColor": "#404040", "labelFont": "Liberation Sans"}}
       }
      }
     ]
    },
    {
     "title": {"text": "(c) Non-intervention cohort FH-", "anchor": "start", "dx": 9, "offset": 16, "font": "Liberation Sans", "fontSize": 19.7, "fontWeight": "normal", "color": "#000"},
     "spacing": 16.5,
     "resolve": {"scale": {"color": "independent", "xOffset": "independent"}, "legend": {"color": "independent"}},
     "vconcat": [
      {
       "width": 289, "height": 235,
       "view": {"stroke": "#a6a6a6", "strokeWidth": 1.2},
       "data": {"name": "prev"},
       "transform": [{"filter": "datum.c === 'c' && datum.o === 'eczema'"}],
       "mark": {"type": "bar"},
       "encoding": {
        "x": {"field": "age", "type": "nominal", "title": "Age (years)", "scale": {"domain": ["5–6", "7–10", "11–15", "16–20"], "range": [50, 283], "paddingInner": 0, "paddingOuter": 0}, "axis": {"offset": -52, "tickBand": "extent", "labelAngle": 0}},
        "xOffset": {"field": "g", "type": "nominal", "scale": {"domain": ["FB, early eczema -", "non-FB, early eczema -", "gap", "FB, early eczema +", "non-FB, early eczema +"], "paddingInner": 0, "paddingOuter": 0.79}},
        "y": {"field": "v", "type": "quantitative", "title": "Period prevalence of eczema", "scale": {"domain": [0, 41.75], "range": [183, 25], "nice": false, "zero": true}, "axis": {"offset": -50, "values": [0, 5, 10, 15, 20, 25, 30, 35, 40], "labelExpr": "datum.value + '%'", "grid": true}},
        "color": {"field": "g", "type": "nominal", "scale": {"domain": ["FB, early eczema -", "non-FB, early eczema -", "FB, early eczema +", "non-FB, early eczema +"], "range": ["#FF0000", "#000000", "#F68B1F", "#808080"]}, "legend": null}
       }
      },
      {
       "width": 289, "height": 235,
       "view": {"stroke": "#a6a6a6", "strokeWidth": 1.2},
       "data": {"name": "prev"},
       "transform": [{"filter": "datum.c === 'c' && datum.o === 'asthma'"}],
       "mark": {"type": "bar"},
       "encoding": {
        "x": {"field": "age", "type": "nominal", "title": "Age (years)", "scale": {"domain": ["5–6", "7–10", "11–15", "16–20"], "range": [50, 283], "paddingInner": 0, "paddingOuter": 0}, "axis": {"offset": -52, "tickBand": "extent", "labelAngle": 0}},
        "xOffset": {"field": "g", "type": "nominal", "scale": {"domain": ["FB, early eczema -", "non-FB, early eczema -", "gap", "FB, early eczema +", "non-FB, early eczema +"], "paddingInner": 0, "paddingOuter": 0.79}},
        "y": {"field": "v", "type": "quantitative", "title": "Period prevalence of asthma", "scale": {"domain": [0, 25], "range": [183, 25], "nice": false, "zero": true}, "axis": {"offset": -50, "values": [0, 5, 10, 15, 20, 25], "labelExpr": "datum.value + '%'", "grid": true}},
        "color": {"field": "g", "type": "nominal", "scale": {"domain": ["FB, early eczema -", "non-FB, early eczema -", "FB, early eczema +", "non-FB, early eczema +"], "range": ["#FF0000", "#000000", "#F68B1F", "#808080"]}, "legend": null}
       }
      },
      {
       "width": 289, "height": 235,
       "view": {"stroke": "#a6a6a6", "strokeWidth": 1.2},
       "data": {"name": "prev"},
       "transform": [{"filter": "datum.c === 'c' && datum.o === 'AR'"}],
       "mark": {"type": "bar"},
       "encoding": {
        "x": {"field": "age", "type": "nominal", "title": "Age (years)", "scale": {"domain": ["5–6", "7–10", "11–15", "16–20"], "range": [50, 283], "paddingInner": 0, "paddingOuter": 0}, "axis": {"offset": -52, "tickBand": "extent", "labelAngle": 0}},
        "xOffset": {"field": "g", "type": "nominal", "scale": {"domain": ["FB, early eczema -", "non-FB, early eczema -", "gap", "FB, early eczema +", "non-FB, early eczema +"], "paddingInner": 0, "paddingOuter": 0.79}},
        "y": {"field": "v", "type": "quantitative", "title": "Period prevalence of AR", "scale": {"domain": [0, 50], "range": [183, 25], "nice": false, "zero": true}, "axis": {"offset": -50, "values": [0, 5, 10, 15, 20, 25, 30, 35, 40, 45, 50], "labelExpr": "datum.value + '%'", "grid": true}},
        "color": {"field": "g", "type": "nominal", "scale": {"domain": ["FB, early eczema -", "non-FB, early eczema -", "FB, early eczema +", "non-FB, early eczema +"], "range": ["#FF0000", "#000000", "#F68B1F", "#808080"]}, "legend": null}
       }
      },
      {
       "width": 289, "height": 235,
       "view": {"stroke": "#a6a6a6", "strokeWidth": 1.2},
       "data": {"name": "prev"},
       "transform": [{"filter": "datum.c === 'c' && datum.o === 'AM'"}],
       "mark": {"type": "bar"},
       "encoding": {
        "x": {"field": "age", "type": "nominal", "title": "Age (years)", "scale": {"domain": ["5–6", "7–10", "11–15", "16–20"], "range": [50, 283], "paddingInner": 0, "paddingOuter": 0}, "axis": {"offset": -52, "tickBand": "extent", "labelAngle": 0}},
        "xOffset": {"field": "g", "type": "nominal", "scale": {"domain": ["FB, early eczema -", "non-FB, early eczema -", "gap", "FB, early eczema +", "non-FB, early eczema +"], "paddingInner": 0, "paddingOuter": 0.79}},
        "y": {"field": "v", "type": "quantitative", "title": "Period prevalence of AM", "scale": {"domain": [0, 65], "range": [183, 25], "nice": false, "zero": true}, "axis": {"offset": -50, "values": [0, 10, 20, 30, 40, 50, 60], "labelExpr": "datum.value + '%'", "grid": true}},
        "color": {"field": "g", "type": "nominal", "scale": {"domain": ["FB, early eczema -", "non-FB, early eczema -", "FB, early eczema +", "non-FB, early eczema +"], "range": ["#FF0000", "#000000", "#E8760F", "#808080"]},
         "legend": {"orient": "none", "legendX": 28, "legendY": 247, "direction": "horizontal", "columns": 2, "title": null, "symbolType": "square", "symbolSize": 25, "symbolStrokeWidth": 0, "labelFontSize": 9.1, "labelOffset": 3, "columnPadding": 32, "rowPadding": 7, "labelColor": "#404040", "labelFont": "Liberation Sans"}}
       }
      }
     ]
    }
   ],
   "spacing": 28,
   "resolve": {"scale": {"color": "independent", "xOffset": "independent"}, "legend": {"color": "independent"}}
  },
  {
   "width": 1654, "height": 200,
   "encoding": {
    "x": {"datum": 0, "type": "quantitative", "scale": {"domain": [0, 1], "range": [462, 1553], "nice": false, "zero": false}, "axis": null},
    "y": {"field": "line", "type": "quantitative", "scale": {"domain": [1, 5], "range": [41, 181], "nice": false, "zero": false}, "axis": null},
    "text": {"field": "text"}
   },
   "layer": [
    {"data": {"values": [{"line": 1, "text": "Figure 2."}]}, "mark": {"type": "text", "font": "Liberation Serif", "fontSize": 26.5, "fontWeight": "bold", "align": "left", "baseline": "middle", "color": "#000"}},
    {"data": {"values": [{"line": 1, "text": "Prevalence of allergic diseases from childhood to young adulthood by eczema during the"}]}, "mark": {"type": "text", "font": "Liberation Serif", "fontSize": 26.5, "align": "left", "baseline": "middle", "color": "#000", "dx": 108}},
    {"data": {"values": [
      {"line": 2, "text": "first three years and feeding groups (a) in the intervention-cohort stratified for the full breastfeeding"},
      {"line": 3, "text": "group (FB) and for the four groups supplemented only with their randomized formula, (b) in the"},
      {"line": 4, "text": "non-intervention-cohort with family risk (FH+) and (c) without risk (FH−) both cohorts stratified by"},
      {"line": 5, "text": "full breastfeeding."}
     ]}, "mark": {"type": "text", "font": "Liberation Serif", "fontSize": 26.5, "align": "left", "baseline": "middle", "color": "#000"}}
   ]
  }
 ],
 "config": {
  "view": {"stroke": null},
  "font": "Liberation Sans",
  "text": {"color": "#000"},
  "axis": {"labelFont": "Liberation Sans", "titleFont": "Liberation Sans", "labelFontSize": 9, "titleFontSize": 9, "titleFontWeight": "normal", "labelColor": "#404040", "titleColor": "#404040", "domainColor": "#868686", "tickColor": "#868686", "gridColor": "#d9d9d9", "domainWidth": 1, "tickWidth": 1, "gridWidth": 1},
  "axisX": {"tickSize": 4, "labelPadding": 4, "titlePadding": 2, "labelAngle": 0},
  "axisY": {"tickSize": 3, "labelPadding": 3, "titlePadding": 11}
 }
}
